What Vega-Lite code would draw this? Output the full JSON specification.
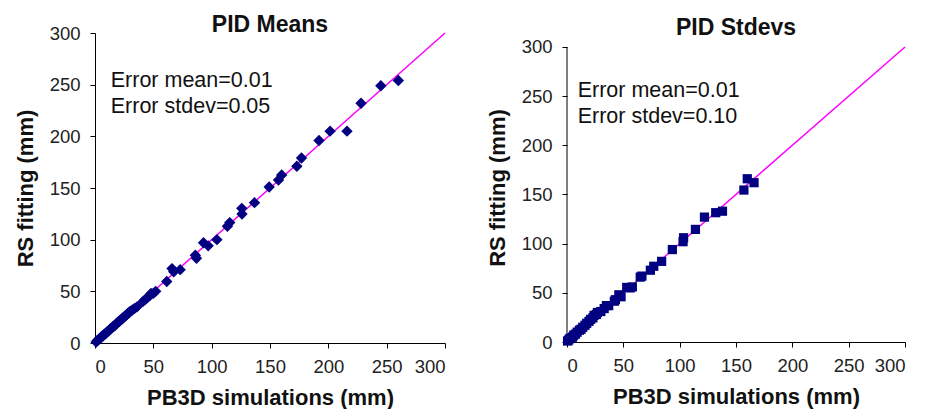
{
  "$schema": "https://vega.github.io/schema/vega-lite/v6.json",
  "padding": {"left": 14, "top": 14, "right": 5, "bottom": 0},
  "spacing": 38,
  "datasets": {
    "means": [
      {"sim": 1, "fit": 1}, {"sim": 2, "fit": 2.5}, {"sim": 3, "fit": 3}, {"sim": 4, "fit": 4.5}, {"sim": 5, "fit": 5},
      {"sim": 6, "fit": 6.5}, {"sim": 7, "fit": 7}, {"sim": 8, "fit": 8.5}, {"sim": 9, "fit": 9}, {"sim": 10, "fit": 10.5},
      {"sim": 11, "fit": 11}, {"sim": 12, "fit": 12}, {"sim": 13, "fit": 13.5}, {"sim": 14, "fit": 14}, {"sim": 15, "fit": 15.5},
      {"sim": 16, "fit": 16}, {"sim": 17, "fit": 17}, {"sim": 18, "fit": 18.5}, {"sim": 19, "fit": 19}, {"sim": 20, "fit": 20.5},
      {"sim": 21, "fit": 21}, {"sim": 22, "fit": 22.5}, {"sim": 23, "fit": 23}, {"sim": 24, "fit": 24.5}, {"sim": 25, "fit": 25},
      {"sim": 26, "fit": 26.5}, {"sim": 27, "fit": 27}, {"sim": 28, "fit": 28.5}, {"sim": 29, "fit": 29}, {"sim": 30, "fit": 30.5},
      {"sim": 32, "fit": 32}, {"sim": 34, "fit": 33.5}, {"sim": 36, "fit": 35}, {"sim": 41, "fit": 40}, {"sim": 43, "fit": 42},
      {"sim": 45, "fit": 44}, {"sim": 47, "fit": 46}, {"sim": 48, "fit": 48}, {"sim": 50, "fit": 48}, {"sim": 52, "fit": 50},
      {"sim": 61.5, "fit": 59.5}, {"sim": 66, "fit": 72}, {"sim": 67.5, "fit": 69}, {"sim": 73, "fit": 71}, {"sim": 86, "fit": 85},
      {"sim": 87, "fit": 82}, {"sim": 93, "fit": 97}, {"sim": 97, "fit": 94}, {"sim": 104.5, "fit": 100}, {"sim": 113.5, "fit": 113},
      {"sim": 115.5, "fit": 116.5}, {"sim": 126, "fit": 124.8}, {"sim": 125.8, "fit": 130.3}, {"sim": 136.7, "fit": 135.8}, {"sim": 149.3, "fit": 151},
      {"sim": 157.3, "fit": 157.7}, {"sim": 160, "fit": 162.6}, {"sim": 173, "fit": 171}, {"sim": 177, "fit": 179}, {"sim": 192, "fit": 196},
      {"sim": 201.5, "fit": 205}, {"sim": 216, "fit": 205}, {"sim": 228, "fit": 232}, {"sim": 245, "fit": 249}, {"sim": 260, "fit": 254}
    ],
    "stdevs": [
      {"sim": 0.5, "fit": 1}, {"sim": 1.5, "fit": 2}, {"sim": 2.5, "fit": 3.5}, {"sim": 3.5, "fit": 4}, {"sim": 5, "fit": 5},
      {"sim": 6, "fit": 7}, {"sim": 7.5, "fit": 8}, {"sim": 9, "fit": 10}, {"sim": 11, "fit": 12}, {"sim": 12.5, "fit": 13},
      {"sim": 14, "fit": 15}, {"sim": 16, "fit": 17}, {"sim": 17.5, "fit": 19}, {"sim": 19.5, "fit": 21}, {"sim": 21, "fit": 23},
      {"sim": 23, "fit": 24.5}, {"sim": 24, "fit": 27}, {"sim": 26, "fit": 28}, {"sim": 27, "fit": 30}, {"sim": 30, "fit": 31},
      {"sim": 33, "fit": 34}, {"sim": 35, "fit": 37}, {"sim": 37, "fit": 37}, {"sim": 42, "fit": 41.5}, {"sim": 43, "fit": 43},
      {"sim": 46, "fit": 48}, {"sim": 48, "fit": 46}, {"sim": 53, "fit": 55.5}, {"sim": 56, "fit": 55}, {"sim": 58, "fit": 56},
      {"sim": 65, "fit": 66}, {"sim": 66.5, "fit": 67}, {"sim": 74, "fit": 73}, {"sim": 77, "fit": 77}, {"sim": 84, "fit": 82},
      {"sim": 93.5, "fit": 94}, {"sim": 103, "fit": 102}, {"sim": 103.5, "fit": 106}, {"sim": 114, "fit": 114.5}, {"sim": 122, "fit": 127},
      {"sim": 132, "fit": 131.5}, {"sim": 138, "fit": 133}, {"sim": 157, "fit": 154.5}, {"sim": 160, "fit": 166}, {"sim": 166, "fit": 162}
    ],
    "diag": [{"sim": 0, "fit": 0}, {"sim": 300, "fit": 300}]
  },
  "config": {
    "font": "Liberation Sans",
    "view": {"stroke": null},
    "axis": {
      "grid": false, "domainColor": "#000", "domainWidth": 1, "tickColor": "#000", "tickSize": 5, "tickWidth": 1,
      "labelFontSize": 18.5, "labelColor": "#222", "labelFont": "Liberation Sans",
      "titleFontSize": 22, "titleFontWeight": "bold", "titleColor": "#111", "titleFont": "Liberation Sans",
      "values": [0, 50, 100, 150, 200, 250, 300]
    },
    "axisX": {"labelPadding": 9, "titlePadding": 12, "labelAngle": 0, "labelOverlap": false},
    "axisY": {"labelPadding": 10, "titlePadding": 12, "labelOverlap": false},
    "title": {"fontSize": 23, "fontWeight": "bold", "color": "#111", "anchor": "middle", "font": "Liberation Sans"}
  },
  "hconcat": [
    {
      "width": 350, "height": 310,
      "title": {"text": "PID Means", "offset": -13},
      "layer": [
        {
          "data": {"name": "diag"},
          "mark": {"type": "line", "color": "#ff00ff", "strokeWidth": 1.5},
          "encoding": {
            "x": {"field": "sim", "type": "quantitative", "scale": {"domain": [0, 300], "nice": false}, "title": "PB3D simulations (mm)"},
            "y": {"field": "fit", "type": "quantitative", "scale": {"domain": [0, 300], "nice": false}, "title": "RS fitting (mm)"}
          }
        },
        {
          "data": {"name": "means"},
          "mark": {"type": "point", "shape": "diamond", "filled": true, "size": 130, "color": "#000080", "opacity": 1},
          "encoding": {
            "x": {"field": "sim", "type": "quantitative", "title": "PB3D simulations (mm)"},
            "y": {"field": "fit", "type": "quantitative", "title": "RS fitting (mm)"}
          }
        },
        {
          "data": {"values": [{}]},
          "mark": {"type": "text", "text": ["Error mean=0.01", "Error stdev=0.05"], "align": "left", "baseline": "alphabetic", "fontSize": 21.5, "lineHeight": 26, "color": "#111"},
          "encoding": {
            "x": {"datum": 13.5, "type": "quantitative"},
            "y": {"datum": 247.4, "type": "quantitative"}
          }
        }
      ]
    },
    {
      "width": 338, "height": 309,
      "title": {"text": "PID Stdevs", "offset": -6.5},
      "layer": [
        {
          "data": {"values": [{}]},
          "mark": {"type": "rule", "color": "#000", "strokeWidth": 1},
          "encoding": {
            "x": {"datum": 0, "type": "quantitative", "scale": {"domain": [0, 300], "nice": false}, "title": "PB3D simulations (mm)"},
            "y": {"datum": 0, "type": "quantitative", "scale": {"domain": [0, 314.2], "nice": false, "zero": true}, "title": "RS fitting (mm)", "axis": {"domain": false}},
            "y2": {"datum": 300}
          }
        },
        {
          "data": {"name": "diag"},
          "mark": {"type": "line", "color": "#ff00ff", "strokeWidth": 1.5},
          "encoding": {
            "x": {"field": "sim", "type": "quantitative", "title": "PB3D simulations (mm)"},
            "y": {"field": "fit", "type": "quantitative", "title": "RS fitting (mm)"}
          }
        },
        {
          "data": {"name": "stdevs"},
          "mark": {"type": "point", "shape": "square", "filled": true, "size": 85, "color": "#000080", "opacity": 1},
          "encoding": {
            "x": {"field": "sim", "type": "quantitative", "title": "PB3D simulations (mm)"},
            "y": {"field": "fit", "type": "quantitative", "title": "RS fitting (mm)"}
          }
        },
        {
          "data": {"values": [{}]},
          "mark": {"type": "text", "text": ["Error mean=0.01", "Error stdev=0.10"], "align": "left", "baseline": "alphabetic", "fontSize": 21.5, "lineHeight": 26, "color": "#111"},
          "encoding": {
            "x": {"datum": 9.5, "type": "quantitative"},
            "y": {"datum": 249.5, "type": "quantitative"}
          }
        }
      ]
    }
  ]
}
